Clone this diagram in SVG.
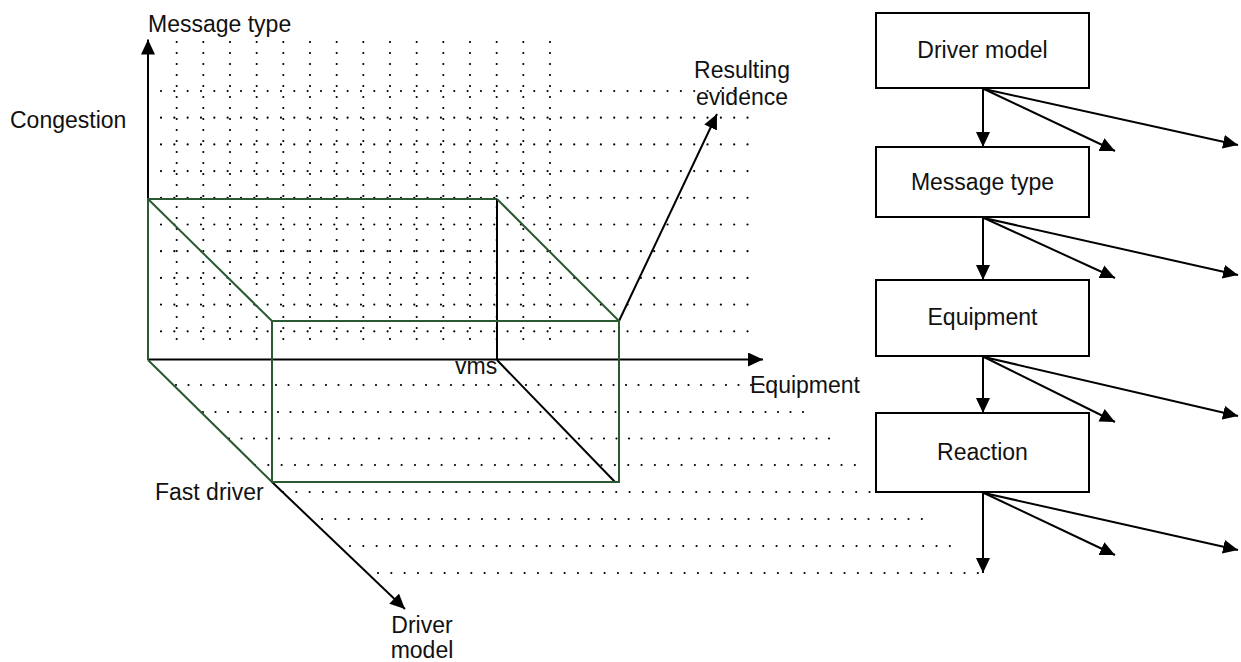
<svg xmlns="http://www.w3.org/2000/svg" width="1241" height="662" viewBox="0 0 1241 662">
  <style>
    text { font-family: "Liberation Sans", Arial, sans-serif; font-size: 23px; fill: #111; }
    .dotsH { stroke: #000; stroke-width: 2.2; stroke-linecap: round; stroke-dasharray: 0 13.33; fill: none; }
    .dotsL { stroke: #000; stroke-width: 2.2; stroke-linecap: round; stroke-dasharray: 0 12.5; fill: none; }
    .dotsV { stroke: #000; stroke-width: 2.2; stroke-linecap: round; stroke-dasharray: 0 11; fill: none; }
    .edge { stroke: #2a5a32; stroke-width: 2; fill: none; }
    .ink { stroke: #000; stroke-width: 2; fill: none; }
    .box { fill: #fff; stroke: #000; stroke-width: 2; }
  </style>
  <defs>
    <marker id="head" viewBox="0 0 15 14" refX="15" refY="7" markerWidth="15" markerHeight="14" markerUnits="userSpaceOnUse" orient="auto">
      <path d="M0,0 L15,7 L0,14 Z" fill="#000"/>
    </marker>
  </defs>
  <rect width="1241" height="662" fill="#fff"/>

  <!-- evidence grid: vertical dotted columns -->
  <g id="grid-columns">
    <line class="dotsV" x1="176.7" y1="42" x2="176.7" y2="350"/>
    <line class="dotsV" x1="203.3" y1="42" x2="203.3" y2="350"/>
    <line class="dotsV" x1="230" y1="42" x2="230" y2="350"/>
    <line class="dotsV" x1="256.7" y1="42" x2="256.7" y2="350"/>
    <line class="dotsV" x1="283.3" y1="42" x2="283.3" y2="350"/>
    <line class="dotsV" x1="310" y1="42" x2="310" y2="350"/>
    <line class="dotsV" x1="336.7" y1="42" x2="336.7" y2="350"/>
    <line class="dotsV" x1="363.3" y1="42" x2="363.3" y2="350"/>
    <line class="dotsV" x1="390" y1="42" x2="390" y2="350"/>
    <line class="dotsV" x1="416.7" y1="42" x2="416.7" y2="350"/>
    <line class="dotsV" x1="443.3" y1="42" x2="443.3" y2="350"/>
    <line class="dotsV" x1="470" y1="42" x2="470" y2="350"/>
    <line class="dotsV" x1="496.7" y1="42" x2="496.7" y2="350"/>
    <line class="dotsV" x1="523.3" y1="42" x2="523.3" y2="350"/>
    <line class="dotsV" x1="550" y1="42" x2="550" y2="350"/>
  </g>

  <!-- evidence grid: horizontal dotted rows above the equipment axis -->
  <g id="grid-rows-upper">
    <line class="dotsH" x1="161" y1="91" x2="760" y2="91"/>
    <line class="dotsH" x1="161" y1="117.7" x2="760" y2="117.7"/>
    <line class="dotsH" x1="161" y1="144.4" x2="760" y2="144.4"/>
    <line class="dotsH" x1="161" y1="171.1" x2="760" y2="171.1"/>
    <line class="dotsH" x1="161" y1="197.8" x2="760" y2="197.8"/>
    <line class="dotsH" x1="161" y1="224.5" x2="760" y2="224.5"/>
    <line class="dotsH" x1="161" y1="251.2" x2="760" y2="251.2"/>
    <line class="dotsH" x1="161" y1="277.9" x2="760" y2="277.9"/>
    <line class="dotsH" x1="161" y1="304.6" x2="760" y2="304.6"/>
    <line class="dotsH" x1="161" y1="331.3" x2="760" y2="331.3"/>
  </g>

  <!-- projection rows below the equipment axis -->
  <g id="grid-rows-lower">
    <line class="dotsL" x1="176" y1="385" x2="781" y2="385"/>
    <line class="dotsL" x1="203" y1="412" x2="808" y2="412"/>
    <line class="dotsL" x1="229" y1="438.5" x2="835" y2="438.5"/>
    <line class="dotsH" x1="255" y1="465" x2="862" y2="465"/>
    <line class="dotsH" x1="283" y1="492" x2="876" y2="492"/>
    <line class="dotsH" x1="322" y1="519" x2="922" y2="519"/>
    <line class="dotsH" x1="350" y1="546" x2="950" y2="546"/>
    <line class="dotsH" x1="378" y1="573" x2="980" y2="573"/>
  </g>

  <!-- axes -->
  <g id="axes">
    <line class="ink" x1="148" y1="360" x2="148" y2="39.5" marker-end="url(#head)"/>
    <line class="ink" x1="148" y1="359.5" x2="763" y2="359.5" marker-end="url(#head)"/>
    <line class="ink" x1="272" y1="482" x2="405" y2="609" marker-end="url(#head)"/>
    <line class="ink" x1="619" y1="321" x2="717" y2="114" marker-end="url(#head)"/>
  </g>

  <!-- cuboid of the selected evidence -->
  <g id="cuboid">
    <polyline class="edge" points="148,360 148,199 497,199"/>
    <line class="ink" x1="497" y1="199" x2="497" y2="360"/>
    <line class="edge" x1="148" y1="199" x2="272" y2="321"/>
    <line class="edge" x1="497" y1="199" x2="619" y2="321"/>
    <line class="edge" x1="148" y1="360" x2="272" y2="482"/>
    <line class="ink" x1="497" y1="360" x2="615" y2="482"/>
    <rect class="edge" x="272" y="321" width="347" height="161"/>
  </g>

  <!-- axis and point labels -->
  <g id="labels">
    <text x="148" y="32">Message type</text>
    <text x="10" y="128">Congestion</text>
    <text x="455" y="374">vms</text>
    <text x="750" y="392.5">Equipment</text>
    <text x="155" y="500">Fast driver</text>
    <text x="422" y="633" text-anchor="middle">Driver</text>
    <text x="422" y="658" text-anchor="middle">model</text>
    <text x="742" y="78" text-anchor="middle">Resulting</text>
    <text x="742" y="105" text-anchor="middle">evidence</text>
  </g>

  <!-- connectors of the variable chain -->
  <g id="connectors">
    <line class="ink" x1="983" y1="88" x2="983" y2="147" marker-end="url(#head)"/>
    <line class="ink" x1="984" y1="89" x2="1115" y2="151" marker-end="url(#head)"/>
    <line class="ink" x1="984" y1="89" x2="1238" y2="145" marker-end="url(#head)"/>

    <line class="ink" x1="983" y1="217" x2="983" y2="280" marker-end="url(#head)"/>
    <line class="ink" x1="984" y1="218" x2="1115" y2="278" marker-end="url(#head)"/>
    <line class="ink" x1="984" y1="218" x2="1238" y2="275" marker-end="url(#head)"/>

    <line class="ink" x1="983" y1="356" x2="983" y2="413" marker-end="url(#head)"/>
    <line class="ink" x1="984" y1="357" x2="1115" y2="422" marker-end="url(#head)"/>
    <line class="ink" x1="984" y1="357" x2="1238" y2="416" marker-end="url(#head)"/>

    <line class="ink" x1="983" y1="492" x2="983" y2="573" marker-end="url(#head)"/>
    <line class="ink" x1="984" y1="493" x2="1115" y2="555" marker-end="url(#head)"/>
    <line class="ink" x1="984" y1="493" x2="1238" y2="550" marker-end="url(#head)"/>
  </g>

  <!-- chain nodes -->
  <g id="node-driver-model">
    <rect class="box" x="876" y="13" width="213" height="75"/>
    <text x="982.5" y="58" text-anchor="middle">Driver model</text>
  </g>
  <g id="node-message-type">
    <rect class="box" x="876" y="147" width="213" height="70"/>
    <text x="982.5" y="189.5" text-anchor="middle">Message type</text>
  </g>
  <g id="node-equipment">
    <rect class="box" x="876" y="280" width="213" height="76"/>
    <text x="982.5" y="325" text-anchor="middle">Equipment</text>
  </g>
  <g id="node-reaction">
    <rect class="box" x="876" y="413" width="213" height="79"/>
    <text x="982.5" y="460" text-anchor="middle">Reaction</text>
  </g>
</svg>
